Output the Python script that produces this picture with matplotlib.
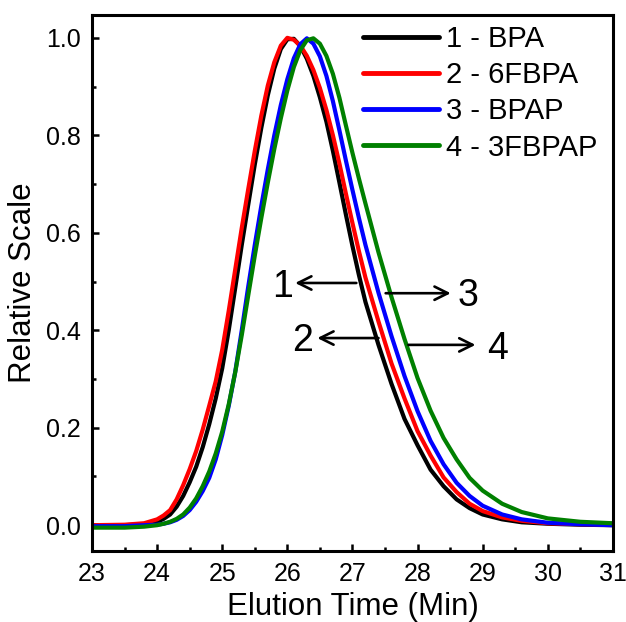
import matplotlib
matplotlib.use("Agg")
import matplotlib.pyplot as plt
from matplotlib.ticker import MultipleLocator, FormatStrFormatter

plt.rcParams['font.family'] = ['Liberation Sans', 'DejaVu Sans']

# Elution time grid (min)
time = [23.0, 23.5, 23.8, 24.0, 24.1, 24.2, 24.3, 24.4, 24.5, 24.6, 24.7, 24.8, 24.9,
        25.0, 25.1, 25.2, 25.3, 25.4, 25.5, 25.6, 25.7, 25.8, 25.9, 26.0, 26.1, 26.2,
        26.3, 26.4, 26.5, 26.6, 26.7, 26.8, 26.9, 27.0, 27.1, 27.2, 27.4, 27.6, 27.8,
        28.0, 28.2, 28.4, 28.6, 28.8, 29.0, 29.3, 29.6, 30.0, 30.5, 31.0]

bpa = [0.000, 0.000, 0.002, 0.007, 0.013, 0.022, 0.038, 0.060, 0.088, 0.120, 0.160, 0.207, 0.260,
       0.322, 0.400, 0.487, 0.575, 0.658, 0.740, 0.815, 0.882, 0.937, 0.977, 0.997, 0.998, 0.983,
       0.957, 0.922, 0.878, 0.828, 0.768, 0.703, 0.637, 0.573, 0.513, 0.458, 0.370, 0.290, 0.218,
       0.164, 0.114, 0.080, 0.053, 0.035, 0.022, 0.012, 0.006, 0.003, 0.001, 0.000]

fbpa6 = [0.000, 0.001, 0.004, 0.012, 0.020, 0.031, 0.053, 0.082, 0.115, 0.152, 0.196, 0.245, 0.295,
         0.360, 0.440, 0.525, 0.610, 0.690, 0.768, 0.840, 0.902, 0.950, 0.984, 1.000, 0.996, 0.984,
         0.963, 0.934, 0.897, 0.852, 0.800, 0.742, 0.680, 0.620, 0.562, 0.508, 0.418, 0.332, 0.260,
         0.193, 0.143, 0.098, 0.068, 0.044, 0.029, 0.016, 0.009, 0.004, 0.002, 0.001]

bpap = [-0.002, -0.002, 0.000, 0.001, 0.003, 0.006, 0.011, 0.019, 0.031, 0.048, 0.070, 0.097, 0.135,
        0.185, 0.245, 0.315, 0.400, 0.490, 0.575, 0.655, 0.730, 0.800, 0.862, 0.915, 0.958, 0.987,
        0.999, 0.988, 0.962, 0.922, 0.870, 0.810, 0.748, 0.688, 0.630, 0.575, 0.477, 0.388, 0.306,
        0.234, 0.173, 0.125, 0.087, 0.060, 0.040, 0.022, 0.012, 0.005, 0.002, 0.000]

fbpap3 = [-0.005, -0.005, -0.003, 0.000, 0.003, 0.007, 0.013, 0.022, 0.036, 0.055, 0.080, 0.110, 0.147,
          0.192, 0.248, 0.314, 0.390, 0.472, 0.553, 0.630, 0.703, 0.772, 0.835, 0.892, 0.940, 0.975,
          0.995, 0.999, 0.988, 0.963, 0.926, 0.877, 0.820, 0.764, 0.711, 0.660, 0.560, 0.468, 0.382,
          0.302, 0.235, 0.179, 0.135, 0.097, 0.071, 0.044, 0.027, 0.014, 0.007, 0.004]

series = [bpa, fbpa6, bpap, fbpap3]
labels = ['1 - BPA', '2 - 6FBPA', '3 - BPAP', '4 - 3FBPAP']
colors = ['#000000', '#ff0000', '#0000ff', '#008000']

# annotation: (label, arrow start x, arrow end x, y, text x, text y)
annots = [('1', 27.06, 26.12, 0.497, 25.92, 0.489),
          ('3', 27.51, 28.51, 0.476, 28.78, 0.470),
          ('2', 27.40, 26.46, 0.384, 26.23, 0.378),
          ('4', 27.86, 28.89, 0.370, 29.23, 0.362)]

fig = plt.figure(figsize=(6.26, 6.22), dpi=100)
ax = fig.add_axes([0.147, 0.1141, 0.832, 0.8619])

for y, lab, c in zip(series, labels, colors):
    ax.plot(time, y, color=c, lw=3.0, label=lab, solid_capstyle='round', solid_joinstyle='round')

for lab, x0, x1, yy, tx, ty in annots:
    ax.annotate('', xy=(x1, yy), xytext=(x0, yy),
                arrowprops=dict(arrowstyle='->', lw=1.9, color='black',
                                mutation_scale=24, shrinkA=0, shrinkB=0))
    ax.text(tx, ty, lab, fontsize=27, ha='center', va='center', color='black')

ax.set_xlim(23, 31)
ax.set_ylim(-0.053, 1.047)
ax.xaxis.set_major_locator(MultipleLocator(1))
ax.xaxis.set_minor_locator(MultipleLocator(0.5))
ax.yaxis.set_major_locator(MultipleLocator(0.2))
ax.yaxis.set_minor_locator(MultipleLocator(0.1))
ax.yaxis.set_major_formatter(FormatStrFormatter('%.1f'))

ax.tick_params(which='both', direction='in', top=False, right=False, width=1.8, color='black')
ax.tick_params(which='major', length=5, labelsize=18, pad=8)
ax.tick_params(which='minor', length=3)
for s in ax.spines.values():
    s.set_linewidth(2.2)

ax.set_xlabel('Elution Time (Min)', fontsize=22.5, labelpad=4)
ax.set_ylabel('Relative Scale', fontsize=22.5, labelpad=6)

leg = ax.legend(loc='upper left', bbox_to_anchor=(363 / 626, 1 - 25 / 622),
                bbox_transform=fig.transFigure, frameon=False, fontsize=21,
                handlelength=2.6, handletextpad=0.25, labelspacing=0.28,
                borderpad=0, borderaxespad=0)
for h in leg.get_lines():
    h.set_linewidth(3.5)

fig.savefig('out.png', dpi=100)
